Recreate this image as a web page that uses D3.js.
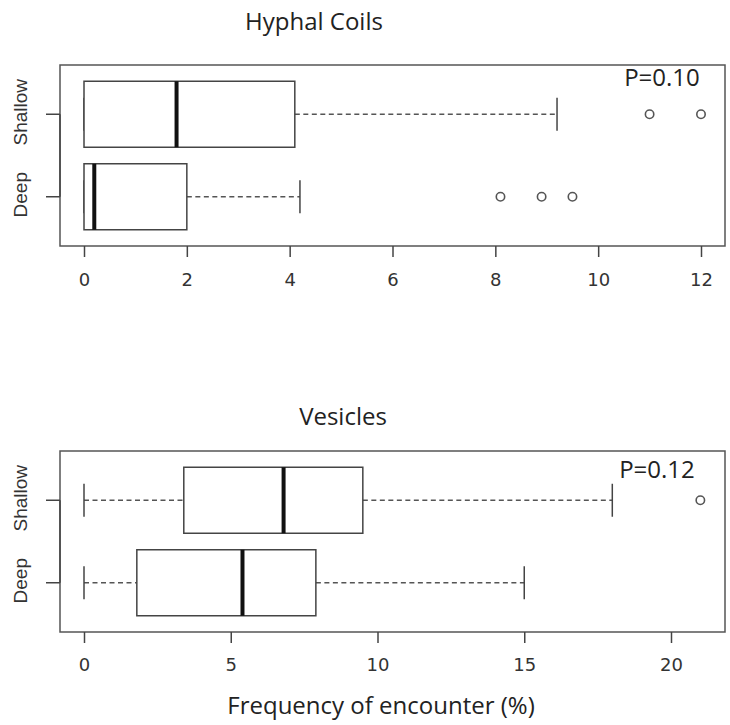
<!DOCTYPE html>
<html>
<head>
<meta charset="utf-8">
<script src="https://cdn.jsdelivr.net/npm/d3@7"></script>
<style>
  body { margin: 0; background: #fff; }
  svg { display: block; }
  .title, .xlab, .pval { font-family: "Open Sans", "Noto Sans", sans-serif; fill: #222; }
  .tick text { font-family: "DejaVu Sans", "Liberation Sans", sans-serif; fill: #333; }
  .grp text { font-family: "Liberation Sans Narrow", "Liberation Sans", sans-serif; fill: #333; }
</style>
</head>
<body>
<div id="chart"></div>
<script>
// groups, top to bottom
const groups = ['Shallow', 'Deep'];

// Hyphal coils: [lower whisker, Q1, median, Q3, upper whisker]
const coilStats = [
  [0, 0, 1.8, 4.1, 9.2],
  [0, 0, 0.2, 2.0, 4.2]
];
const coilOutliers = [[11, 12], [8.1, 8.9, 9.5]];
const coilTicks = [0, 2, 4, 6, 8, 10, 12];

// Vesicles
const vesStats = [
  [0, 3.4, 6.8, 9.5, 18],
  [0, 1.8, 5.4, 7.9, 15]
];
const vesOutliers = [[21], []];
const vesTicks = [0, 5, 10, 15, 20];

const panels = [
  { title: 'Hyphal Coils', p: 'P=0.10', stats: coilStats, out: coilOutliers, ticks: coilTicks,
    top: 65, domain: [0, 12], xRight: 701, titleX: 314, titleY: 30, pX: 662, pY: 21, pad: 16 },
  { title: 'Vesicles', p: 'P=0.12', stats: vesStats, out: vesOutliers, ticks: vesTicks,
    top: 451, domain: [0, 20], xRight: 671, titleX: 343, titleY: 425, pX: 657, pY: 27, pad: 15 }
];

const W = 730, H = 725;
const frameL = 60, frameR = 725, plotH = 181;
const ink = '#444';

const svg = d3.select('#chart').append('svg')
  .attr('width', W).attr('height', H);

panels.forEach(pn => {
  const g = svg.append('g').attr('transform', `translate(0,${pn.top})`);

  const x = d3.scaleLinear().domain(pn.domain).range([84, pn.xRight]);
  const y = d3.scaleBand().domain(groups).range([8, plotH - 8]).paddingInner(0.2).paddingOuter(0.1);

  // frame
  g.append('rect')
    .attr('x', frameL).attr('y', 0)
    .attr('width', frameR - frameL).attr('height', plotH)
    .attr('fill', 'none').attr('stroke', '#555').attr('stroke-width', 1.5);

  // x axis
  const xa = g.append('g').attr('transform', `translate(0,${plotH})`)
    .call(d3.axisBottom(x).tickValues(pn.ticks).tickSize(11).tickPadding(pn.pad));
  xa.select('.domain').remove();
  xa.selectAll('line').attr('stroke', ink).attr('stroke-width', 1.5);
  xa.selectAll('text').attr('font-size', 18).attr('fill', '#333');

  // y axis (line only between ticks, like R)
  const yc = d => y(d) + y.bandwidth() / 2;
  const ya = g.append('g').attr('class', 'grp');
  ya.append('line')
    .attr('x1', frameL).attr('x2', frameL)
    .attr('y1', yc(groups[0])).attr('y2', yc(groups[1]))
    .attr('stroke', ink).attr('stroke-width', 1.5);
  groups.forEach(gr => {
    ya.append('line')
      .attr('x1', frameL - 14).attr('x2', frameL)
      .attr('y1', yc(gr)).attr('y2', yc(gr))
      .attr('stroke', ink).attr('stroke-width', 1.5);
    ya.append('text')
      .attr('transform', `translate(27,${yc(gr) - 2}) rotate(-90)`)
      .attr('text-anchor', 'middle')
      .attr('font-size', 19)
      .text(gr);
  });

  // boxes
  groups.forEach((gr, i) => {
    const [lo, q1, med, q3, hi] = pn.stats[i];
    const cy = yc(gr), bt = y(gr), bh = y.bandwidth();
    const capH = bh * 0.5;
    const bg = g.append('g');
    // whiskers
    bg.append('line').attr('x1', x(lo)).attr('x2', x(q1)).attr('y1', cy).attr('y2', cy)
      .attr('stroke', '#555').attr('stroke-width', 1.4).attr('stroke-dasharray', '5,3.5');
    bg.append('line').attr('x1', x(q3)).attr('x2', x(hi)).attr('y1', cy).attr('y2', cy)
      .attr('stroke', '#555').attr('stroke-width', 1.4).attr('stroke-dasharray', '5,3.5');
    // caps
    [lo, hi].forEach(v => {
      bg.append('line').attr('x1', x(v)).attr('x2', x(v))
        .attr('y1', cy - capH / 2).attr('y2', cy + capH / 2)
        .attr('stroke', ink).attr('stroke-width', 1.5);
    });
    // box
    bg.append('rect').attr('x', x(q1)).attr('y', bt)
      .attr('width', x(q3) - x(q1)).attr('height', bh)
      .attr('fill', '#fff').attr('stroke', '#444').attr('stroke-width', 1.5);
    // median
    bg.append('line').attr('x1', x(med)).attr('x2', x(med))
      .attr('y1', bt).attr('y2', bt + bh)
      .attr('stroke', '#111').attr('stroke-width', 4);
    // outliers
    bg.selectAll('circle.o').data(pn.out[i]).enter().append('circle')
      .attr('class', 'o')
      .attr('cx', d => x(d)).attr('cy', cy).attr('r', 4.2)
      .attr('fill', 'none').attr('stroke', '#555').attr('stroke-width', 1.6);
  });

  // p value
  g.append('text').attr('class', 'pval')
    .attr('x', pn.pX).attr('y', pn.pY)
    .attr('text-anchor', 'middle').attr('font-size', 24)
    .text(pn.p);

  // title
  svg.append('text').attr('class', 'title')
    .attr('x', pn.titleX).attr('y', pn.titleY)
    .attr('text-anchor', 'middle').attr('font-size', 24)
    .text(pn.title);
});

svg.append('text').attr('class', 'xlab')
  .attr('x', 381).attr('y', 714)
  .attr('text-anchor', 'middle').attr('font-size', 24)
  .text('Frequency of encounter (%)');
</script>
</body>
</html>
